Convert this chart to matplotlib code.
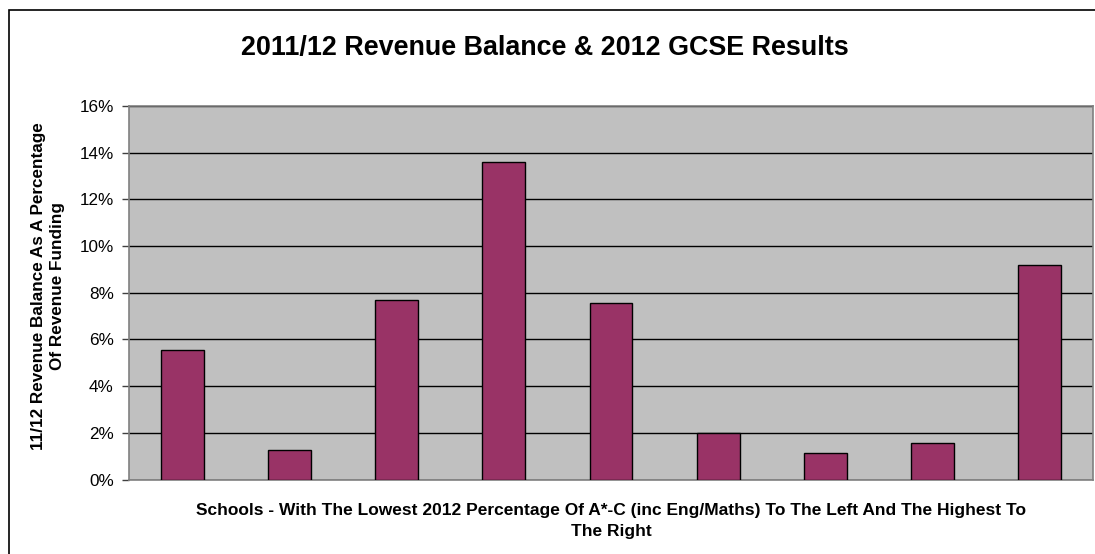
import matplotlib
matplotlib.use("Agg")
import matplotlib.pyplot as plt
from matplotlib.patches import Rectangle
from matplotlib.ticker import FuncFormatter, MultipleLocator

plt.rcParams['font.family'] = ['Liberation Sans', 'DejaVu Sans']

schools = [1, 2, 3, 4, 5, 6, 7, 8, 9]
balance_pct = [5.54, 1.27, 7.67, 13.58, 7.58, 1.98, 1.14, 1.57, 9.18]

title = "2011/12 Revenue Balance & 2012 GCSE Results"
ylabel = "11/12 Revenue Balance As A Percentage\nOf Revenue Funding"
xlabel = ("Schools - With The Lowest 2012 Percentage Of A*-C (inc Eng/Maths) To The Left And The Highest To\n"
          "The Right")

W, H = 1095, 554
fig = plt.figure(figsize=(W / 100, H / 100), dpi=100)
fig.patch.set_facecolor('white')

# outer chart border
fig.patches.append(Rectangle((9 / W, -0.1), 1.2, (H - 10) / H + 0.1, transform=fig.transFigure,
                             fill=False, edgecolor='black', linewidth=1.2, zorder=0))

left, right, top, bottom = 129, 1093, 106, 479.5
ax = fig.add_axes([left / W, 1 - bottom / H, (right - left) / W, (bottom - top) / H])
ax.set_facecolor('#C0C0C0')

ax.bar(schools, balance_pct, width=0.4, color='#993366', edgecolor='black', linewidth=1, zorder=3)

ax.set_xlim(0.5, 9.5)
ax.set_ylim(0, 16)
ax.yaxis.set_major_locator(MultipleLocator(2))
ax.yaxis.set_major_formatter(FuncFormatter(lambda v, p: f"{v:.0f}%"))
ax.set_xticks([])
ax.grid(axis='y', color='black', linewidth=1, zorder=1)
ax.set_axisbelow(True)

for s in ax.spines.values():
    s.set_color('#808080')
    s.set_linewidth(1.2)

ax.tick_params(axis='y', direction='out', length=5, width=1, color='#404040',
               labelsize=12.3, pad=6, labelcolor='black')

fig.text(0.498, 1 - 48 / H, title, ha='center', va='center', fontsize=19.4, fontweight='bold')
fig.text(48 / W, 1 - 286 / H, ylabel, ha='center', va='center', rotation=90,
         fontsize=12.3, fontweight='bold', linespacing=1.35)
fig.text(611 / W, 1 - 521 / H, xlabel, ha='center', va='center',
         fontsize=12.5, fontweight='bold', linespacing=1.5)

fig.savefig('out.png', dpi=100)
